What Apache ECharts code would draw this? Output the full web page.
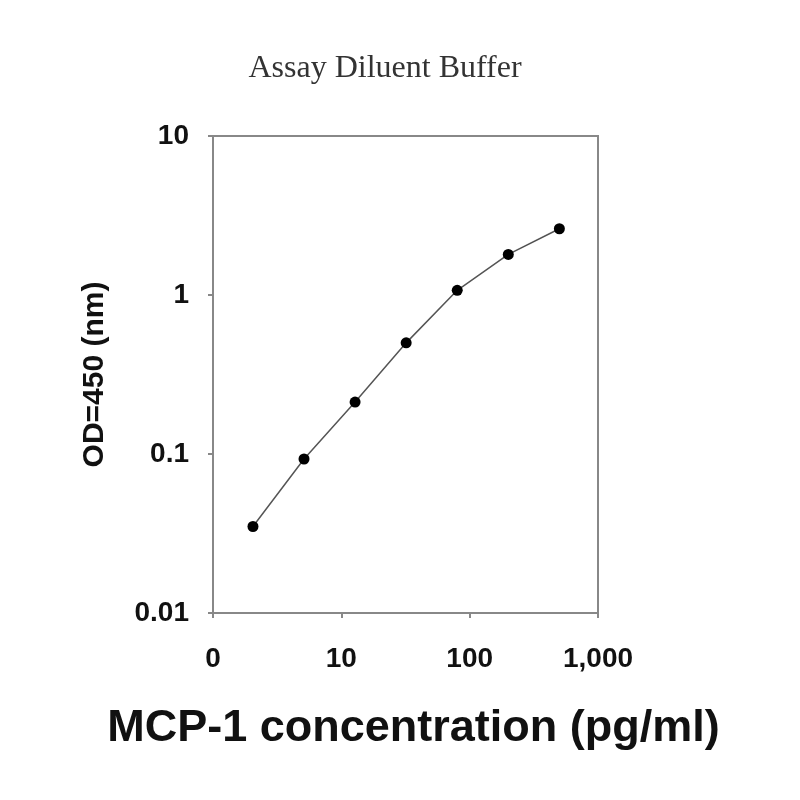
<!DOCTYPE html>
<html><head><meta charset="utf-8">
<script src="https://cdn.jsdelivr.net/npm/echarts@6/dist/echarts.min.js"></script>
<style>html,body{margin:0;padding:0;background:#fff}#c{width:800px;height:800px}</style>
</head><body><div id="c"></div>
<script>
var concentrations = [2.048, 5.12, 12.8, 32, 80, 200, 500];
var odValues = [0.035, 0.093, 0.212, 0.50, 1.07, 1.80, 2.61];
var xTickValues = [1, 10, 100, 1000];
var xTickLabels = ['0', '10', '100', '1,000'];
var yTickValues = [0.01, 0.1, 1, 10];
var yTickLabels = ['0.01', '0.1', '1', '10'];

var chart = echarts.init(document.getElementById('c'));
function lbl(vals, labs, v) {
  for (var i = 0; i < vals.length; i++) {
    if (Math.abs(Math.log10(v) - Math.log10(vals[i])) < 1e-6) return labs[i];
  }
  return '';
}
chart.setOption({
  animation: false,
  backgroundColor: '#fff',
  title: {
    text: 'Assay Diluent Buffer',
    left: 380, top: 48, textAlign: 'center',
    textStyle: { fontFamily: 'Liberation Serif', fontWeight: 'normal', fontSize: 32, color: '#333' }
  },
  grid: { left: 213, right: 202, top: 136, bottom: 187, show: true, borderColor: '#888', borderWidth: 2, backgroundColor: 'transparent' },
  xAxis: {
    type: 'log', logBase: 10, min: 1, max: 1000,
    name: 'MCP-1 concentration (pg/ml)', nameLocation: 'middle', nameGap: 93,
    nameTextStyle: { fontFamily: 'Liberation Sans', fontWeight: 'bold', fontSize: 45, color: '#111', padding: [0, 0, 0, 16] },
    axisLine: { show: true, lineStyle: { color: '#888', width: 2 } },
    axisTick: { show: true, length: 5, lineStyle: { color: '#888', width: 2 } },
    minorTick: { show: false },
    splitLine: { show: false },
    axisLabel: { margin: 32, fontFamily: 'Liberation Sans', fontWeight: 'bold', fontSize: 28, color: '#111',
      formatter: function (v) { return lbl(xTickValues, xTickLabels, v); } }
  },
  yAxis: {
    type: 'log', logBase: 10, min: 0.01, max: 10,
    name: 'OD=450 (nm)', nameLocation: 'middle', nameGap: 103, nameRotate: 90,
    nameTextStyle: { fontFamily: 'Liberation Sans', fontWeight: 'bold', fontSize: 30, color: '#111' },
    axisLine: { show: true, lineStyle: { color: '#888', width: 2 } },
    axisTick: { show: true, length: 5, lineStyle: { color: '#888', width: 2 } },
    splitLine: { show: false },
    axisLabel: { margin: 24, fontFamily: 'Liberation Sans', fontWeight: 'bold', fontSize: 28, color: '#111',
      formatter: function (v) { return lbl(yTickValues, yTickLabels, v); } }
  },
  series: [{
    type: 'line',
    data: concentrations.map(function (c, i) { return [c, odValues[i]]; }),
    symbol: 'circle', symbolSize: 11,
    itemStyle: { color: '#000' },
    lineStyle: { color: '#555', width: 1.5 }
  }]
});
</script></body></html>
